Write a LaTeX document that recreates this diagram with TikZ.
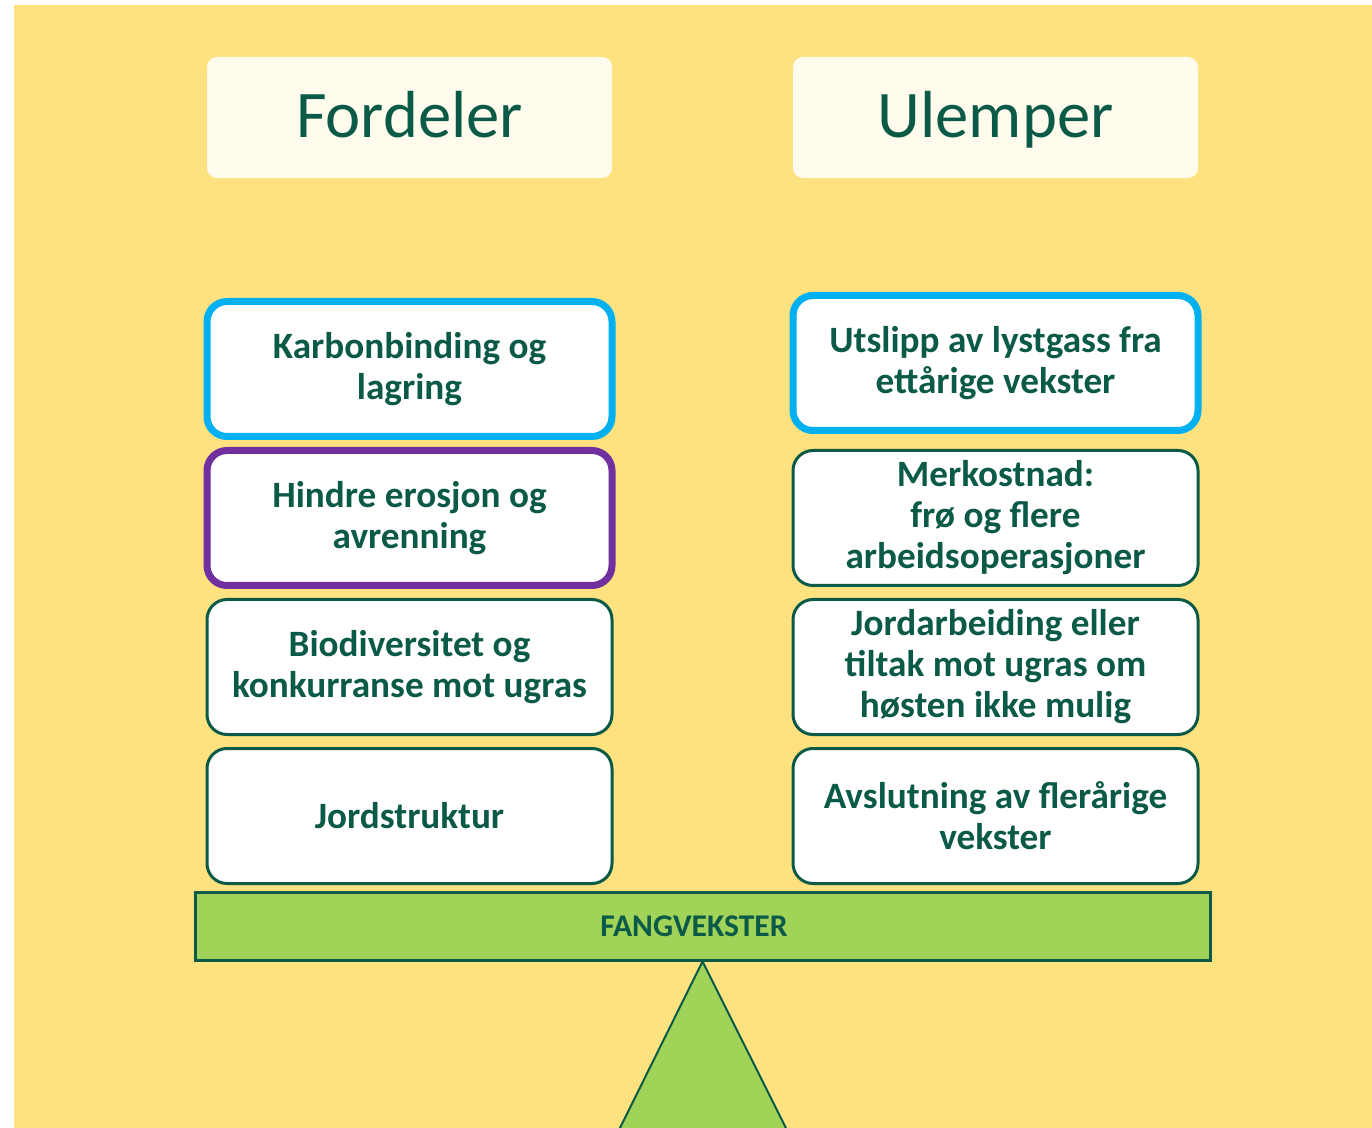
\documentclass[tikz,border=0pt]{standalone}
\usepackage{fontspec}
\setmainfont{Carlito}
\usetikzlibrary{positioning}

\definecolor{sandbg}{HTML}{FEE27F}
\definecolor{titlefill}{HTML}{FFFCEE}
\definecolor{leafgreen}{HTML}{0B5A48}
\definecolor{barfill}{HTML}{A0D358}
\definecolor{skyblue}{HTML}{00B0F0}
\definecolor{plum}{HTML}{7030A0}

\begin{document}
\begin{tikzpicture}[
    x=0.5pt, y=-0.5pt,
    heading/.style={rectangle, rounded corners=5pt, fill=titlefill, text=leafgreen,
                    minimum width=202.5pt, minimum height=60.5pt, outer sep=0pt,
                    text height=24pt, text depth=3.5pt,
                    font=\fontsize{33.3}{38}\selectfont},
    card/.style={rectangle, rounded corners=10pt, draw=leafgreen, line width=1.5pt, fill=white,
                 text=leafgreen, align=center, minimum width=202.5pt, minimum height=67.5pt,
                 inner sep=2pt, outer sep=0pt, font=\bfseries\fontsize{18.6}{20.5}\selectfont},
    bluecard/.style={card, draw=skyblue, line width=3.5pt},
    purplecard/.style={card, draw=plum, line width=3.5pt},
    beam/.style={rectangle, draw=leafgreen, line width=1.5pt, fill=barfill, text=leafgreen,
                 minimum width=507.5pt, minimum height=34pt, font=\bfseries\fontsize{15.8}{18}\selectfont},
    pivot/.style={draw=leafgreen, line width=1pt, fill=barfill}
]
\useasboundingbox (0,0) rectangle (1372,1128);
\fill[sandbg] (14,5) rectangle (1372,1128);

% column headings
\node (pros) [heading] at (409.5,117.5) {Fordeler};
\node (cons) [heading, right=90.5pt of pros] {Ulemper};

% advantages
\node (karbon)  [bluecard] at (409.5,369) {Karbonbinding og\\lagring};
\node (erosjon) [purplecard, below=7pt of karbon]  {Hindre erosjon og\\avrenning};
\node (biodiv)  [card, below=7pt of erosjon] {Biodiversitet og\\konkurranse mot ugras};
\node (jord)    [card, below=7pt of biodiv]  {Jordstruktur};

% disadvantages
\node (lystgass) [bluecard, right=90.5pt of karbon, yshift=3pt] {Utslipp av lystgass fra\\ettårige vekster};
\node (kostnad)  [card, right=90.5pt of erosjon] {Merkostnad:\\frø og flere\\arbeidsoperasjoner};
\node (hosten)   [card, right=90.5pt of biodiv]  {Jordarbeiding eller\\tiltak mot ugras om\\høsten ikke mulig};
\node (flerarig) [card, right=90.5pt of jord]    {Avslutning av flerårige\\vekster};

% the scale
\node (vekt) [beam] at (702.5,926) {FANGVEKSTER\hspace*{8.5pt}\mbox{}};
\begin{scope}
  \clip (0,0) rectangle (1372,1128);
  \draw[pivot] (vekt.south) -- (614,1140) -- (792,1140) -- cycle;
\end{scope}
\end{tikzpicture}
\end{document}
